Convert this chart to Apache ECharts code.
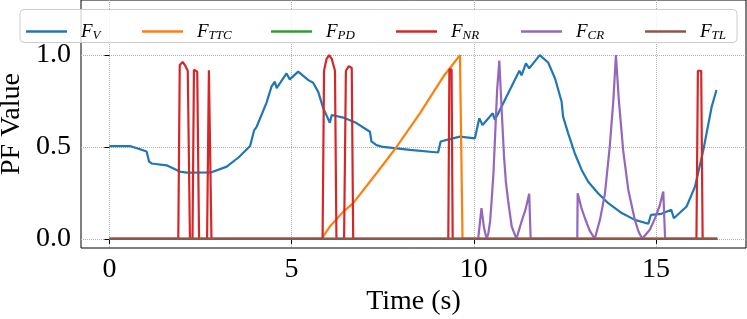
<!DOCTYPE html>
<html>
<head>
<meta charset="utf-8">
<script src="https://cdn.jsdelivr.net/npm/echarts@6/dist/echarts.min.js"></script>
<style>
html,body{margin:0;padding:0;background:#fff;}
#c{width:747px;height:319px;}
</style>
</head>
<body>
<div id="c"></div>
<script>
// ---- data ----
const seriesNames = ['F_V', 'F_TTC', 'F_PD', 'F_NR', 'F_CR', 'F_TL'];
const subscripts = ['V', 'TTC', 'PD', 'NR', 'CR', 'TL'];
const colors = ['#1f77b4', '#ff7f0e', '#2ca02c', '#d62728', '#9467bd', '#8c564b'];
const xTicks = [0, 5, 10, 15];
const yTicks = [0, 0.5, 1.0];
const xAxisTitle = 'Time (s)';
const yAxisTitle = 'PF Value';

const fvTime = [0, 0.56, 0.8, 1.02, 1.09, 1.16, 1.57, 1.93, 2.12, 2.8, 3.22, 3.55, 3.86, 3.97, 4.04, 4.31, 4.45, 4.54, 4.59, 4.86, 4.95, 5.18, 5.46, 5.59, 5.73, 5.87, 6.05, 6.1, 6.42, 6.78, 7.15, 7.19, 7.33, 7.51, 8.25, 9.02, 9.09, 9.34, 9.62, 10.03, 10.15, 10.24, 10.52, 10.58, 11.25, 11.31, 11.43, 11.52, 11.81, 12.04, 12.23, 12.41, 12.45, 12.59, 12.77, 12.96, 13.14, 13.41, 13.69, 14.06, 14.42, 14.79, 14.86, 15.15, 15.42, 15.49, 15.84, 16.07, 16.3, 16.53, 16.66];
const fvValue = [0.505, 0.505, 0.49, 0.475, 0.42, 0.41, 0.40, 0.366, 0.36, 0.362, 0.393, 0.444, 0.505, 0.59, 0.61, 0.74, 0.83, 0.855, 0.82, 0.90, 0.868, 0.91, 0.864, 0.85, 0.80, 0.71, 0.632, 0.674, 0.66, 0.63, 0.583, 0.53, 0.51, 0.50, 0.484, 0.47, 0.53, 0.543, 0.556, 0.547, 0.656, 0.62, 0.683, 0.647, 0.915, 0.89, 0.955, 0.928, 1.0, 0.96, 0.873, 0.746, 0.665, 0.574, 0.466, 0.375, 0.311, 0.248, 0.194, 0.14, 0.103, 0.082, 0.13, 0.136, 0.158, 0.112, 0.176, 0.284, 0.484, 0.72, 0.81];

const ttcTime = [0, 5.82, 6.05, 6.42, 6.69, 7.33, 7.88, 8.52, 9.16, 9.62, 9.69, 16.68];
const ttcValue = [0, 0, 0.067, 0.148, 0.194, 0.357, 0.50, 0.683, 0.882, 1.0, 0, 0];

const pdTime = [0, 16.68];
const pdValue = [0, 0];

const nrTime = [0, 1.89, 1.93, 2.01, 2.07, 2.15, 2.21, 2.28, 2.32, 2.41, 2.46, 2.68, 2.73, 2.80, 5.85, 5.89, 5.96, 6.03, 6.10, 6.19, 6.23, 6.44, 6.49, 6.57, 6.65, 6.69, 9.30, 9.33, 9.39, 9.42, 16.11, 16.15, 16.24, 16.28, 16.68];
const nrValue = [0, 0, 0.946, 0.963, 0.946, 0.915, 0, 0, 0.92, 0.91, 0, 0, 0.918, 0, 0, 0.915, 0.98, 1.0, 0.98, 0.915, 0, 0, 0.915, 0.94, 0.93, 0, 0, 0.922, 0.922, 0, 0, 0.915, 0.915, 0, 0];

const crTime = [0, 10.12, 10.21, 10.28, 10.35, 10.40, 10.45, 10.49, 10.54, 10.58, 10.64, 10.70, 10.76, 10.83, 10.88, 10.94, 11.04, 11.17, 11.31, 11.42, 11.52, 11.56, 12.84, 12.85, 12.95, 13.05, 13.18, 13.32, 13.47, 13.60, 13.73, 13.83, 13.90, 13.98, 14.10, 14.24, 14.42, 14.52, 14.62, 14.83, 14.97, 15.10, 15.20, 15.25, 16.68];
const crValue = [0, 0, 0.167, 0.06, 0, 0.03, 0.10, 0.21, 0.36, 0.54, 0.81, 0.97, 0.72, 0.447, 0.31, 0.21, 0.067, 0, 0.094, 0.16, 0.245, 0, 0, 0.248, 0.17, 0.112, 0.045, 0, 0.11, 0.248, 0.5, 0.755, 1.0, 0.755, 0.48, 0.266, 0.103, 0.04, 0, 0.049, 0.11, 0.18, 0.257, 0, 0];

const tlTime = [0, 16.68];
const tlValue = [0, 0];

const timeArrays = [fvTime, ttcTime, pdTime, nrTime, crTime, tlTime];
const valueArrays = [fvValue, ttcValue, pdValue, nrValue, crValue, tlValue];

// ---- chart ----
const FONT = "'Liberation Serif', 'Times New Roman', serif";
const chart = echarts.init(document.getElementById('c'), null, {renderer: 'canvas'});

const legendLefts = [26, 142, 271, 396, 521, 645];
const legends = seriesNames.map((n, i) => ({
  show: true,
  data: [n],
  left: legendLefts[i],
  top: 22,
  padding: 0,
  itemWidth: 41,
  itemHeight: 2.5,
  icon: 'rect',
  selectedMode: false,
  formatter: () => '{sp|}{f|F}{s|' + subscripts[i] + '}',
  textStyle: {
    color: '#000',
    rich: {
      sp: {width: 9},
      f: {fontFamily: FONT, fontStyle: 'italic', fontSize: 19, color: '#000'},
      s: {fontFamily: FONT, fontStyle: 'italic', fontSize: 13, color: '#000', padding: [8, 0, 0, 0]}
    }
  }
}));

const series = seriesNames.map((n, i) => ({
  name: n,
  type: 'line',
  data: timeArrays[i].map((t, k) => [t, valueArrays[i][k]]),
  showSymbol: false,
  symbol: 'none',
  lineStyle: {color: colors[i], width: 2.2},
  itemStyle: {color: colors[i]},
  z: 2 + i * 0.01,
  animation: false
}));

const option = {
  animation: false,
  backgroundColor: '#fff',
  grid: {left: 81, right: 1, top: 0, bottom: 71, containLabel: false, outerBoundsMode: 'none', show: true, borderColor: '#000', borderWidth: 1, backgroundColor: 'transparent'},
  legend: legends,
  graphic: [{
    type: 'rect',
    z: 3,
    shape: {x: 20, y: 9.5, width: 717, height: 33, r: 4},
    style: {fill: 'rgba(255,255,255,0.8)', stroke: '#cccccc', lineWidth: 1}
  }],
  xAxis: {
    type: 'value',
    min: -0.78,
    max: 17.47,
    name: xAxisTitle,
    nameLocation: 'middle',
    nameGap: 40,
    nameMoveOverlap: false,
    nameTextStyle: {fontFamily: FONT, fontSize: 28, color: '#000'},
    axisLine: {show: false},
    axisTick: {show: true, length: 5, inside: false, lineStyle: {color: '#000'}, customValues: xTicks},
    axisLabel: {fontFamily: FONT, fontSize: 28, color: '#000', margin: 8, customValues: xTicks, formatter: v => String(v)},
    splitLine: {show: true, lineStyle: {color: '#b0b0b0', type: 'dotted', width: 1}}
  },
  yAxis: {
    type: 'value',
    min: -0.05,
    max: 1.3,
    name: yAxisTitle,
    nameLocation: 'middle',
    nameGap: 55,
    nameMoveOverlap: false,
    nameTextStyle: {fontFamily: FONT, fontSize: 28, color: '#000'},
    axisLine: {show: false},
    axisTick: {show: true, length: 5, inside: false, lineStyle: {color: '#000'}, customValues: yTicks},
    axisLabel: {fontFamily: FONT, fontSize: 28, color: '#000', margin: 10, customValues: yTicks, formatter: v => v.toFixed(1)},
    splitLine: {show: true, lineStyle: {color: '#b0b0b0', type: 'dotted', width: 1}}
  },
  series: series
};
chart.setOption(option);
</script>
</body>
</html>
